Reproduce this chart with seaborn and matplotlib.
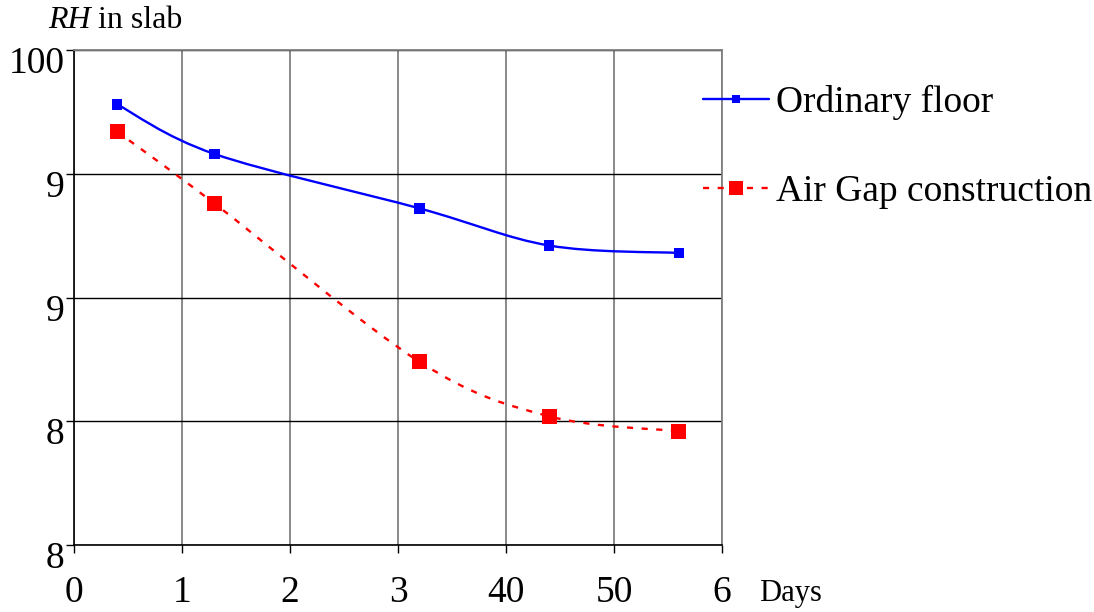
import numpy as np
import pandas as pd
import matplotlib
matplotlib.use("Agg")
import matplotlib.pyplot as plt
import matplotlib.transforms as mtransforms
from matplotlib.path import Path
from matplotlib.patches import PathPatch
from matplotlib.lines import Line2D
import seaborn as sns

# ---- data ----
days = [4.0, 13.0, 32.0, 44.0, 56.0]
ordinary_floor = [97.8, 95.8, 93.6, 92.1, 91.8]
air_gap = [96.7, 93.8, 87.4, 85.2, 84.6]
series_names = ["Ordinary floor", "Air Gap construction"]
x_ticks = [0, 10, 20, 30, 40, 50, 60]
x_tick_labels = ["0", "1", "2", "3", "40", "50", "6"]
y_ticks = [80, 85, 90, 95, 100]
y_tick_labels = ["8", "8", "9", "9", "100"]

df = pd.DataFrame({
    "days": days * 2,
    "rh": ordinary_floor + air_gap,
    "series": [series_names[0]] * len(days) + [series_names[1]] * len(days),
})

sns.set_style("ticks")
plt.rcParams["font.family"] = ["Liberation Serif", "DejaVu Serif"]
plt.rcParams["text.color"] = "black"
plt.rcParams["xtick.labelcolor"] = "black"
plt.rcParams["ytick.labelcolor"] = "black"

fig = plt.figure(figsize=(10.94, 6.12), dpi=100)
ax = fig.add_axes([74 / 1094, 1 - 545 / 612, (722 - 74) / 1094, (545 - 50) / 612])

def smooth_path(xs, ys):
    pts = np.column_stack([xs, ys]).astype(float)
    ext = np.vstack([pts[0], pts, pts[-1]])
    verts = [tuple(pts[0])]
    codes = [Path.MOVETO]
    for i in range(len(pts) - 1):
        p0, p1, p2, p3 = ext[i], ext[i + 1], ext[i + 2], ext[i + 3]
        c1 = p1 + (p2 - p0) / 6.0
        c2 = p2 - (p3 - p1) / 6.0
        verts += [tuple(c1), tuple(c2), tuple(p2)]
        codes += [Path.CURVE4] * 3
    return Path(verts, codes)

# smoothed lines (Excel-style)
ax.add_patch(PathPatch(smooth_path(days, ordinary_floor), fill=False,
                       edgecolor="#0000ff", linewidth=1.7, zorder=3))
ax.add_patch(PathPatch(smooth_path(days, air_gap), fill=False,
                       edgecolor="#ff0000", linewidth=1.7,
                       linestyle=(0, (2.6, 3.6)), zorder=3))

# markers via seaborn
sns.scatterplot(data=df, x="days", y="rh", hue="series", style="series",
                markers={series_names[0]: "s", series_names[1]: "s"},
                palette={series_names[0]: "#0000ff", series_names[1]: "#ff0000"},
                size="series", sizes={series_names[0]: 55, series_names[1]: 120},
                edgecolor="none", linewidth=0, legend=False, ax=ax, zorder=4)

ax.set_xlim(0, 60)
ax.set_ylim(80, 100)
ax.set_xticks(x_ticks)
ax.set_xticklabels(x_tick_labels)
ax.set_yticks(y_ticks)
ax.set_yticklabels(y_tick_labels)
ax.set_xlabel("")
ax.set_ylabel("")

ax.grid(axis="x", color="#808080", linewidth=1.3)
ax.grid(axis="y", color="black", linewidth=1.0)
ax.set_axisbelow(True)
for s in ["left", "bottom"]:
    ax.spines[s].set_color("black")
    ax.spines[s].set_linewidth(1.2)
for s in ["top", "right"]:
    ax.spines[s].set_visible(True)
    ax.spines[s].set_color("#808080")
    ax.spines[s].set_linewidth(1.3)

ax.tick_params(axis="both", direction="out", length=6, width=1, color="black",
               labelsize=27, labelcolor="black")
ax.tick_params(axis="x", pad=16)
ax.tick_params(axis="y", pad=1)
off = mtransforms.ScaledTranslation(0, -10 / 100, fig.dpi_scale_trans)
for lab in ax.get_yticklabels():
    lab.set_transform(lab.get_transform() + off)

fig.text(48 / 1094, 1 - 21 / 612, "RH", fontsize=23, fontstyle="italic",
         va="center", ha="left")
fig.text(98 / 1094, 1 - 21 / 612, "in slab", fontsize=23, va="center", ha="left")
fig.text(759 / 1094, 1 - 593 / 612, "Days", fontsize=22, va="center", ha="left")

handles = [
    Line2D([], [], color="#0000ff", linewidth=1.7, marker="s", markersize=6,
           markeredgewidth=0),
    Line2D([], [], color="#ff0000", linewidth=1.7, linestyle=(0, (2.6, 3.6)),
           marker="s", markersize=10, markeredgewidth=0),
]
fig.legend(handles, series_names, loc="upper left",
           bbox_to_anchor=(703 / 1094, 1 - 85 / 612), frameon=False,
           fontsize=27, handlelength=1.75, handletextpad=0.2, labelspacing=1.45,
           borderaxespad=0, borderpad=0)

fig.savefig("out.png", dpi=100)
